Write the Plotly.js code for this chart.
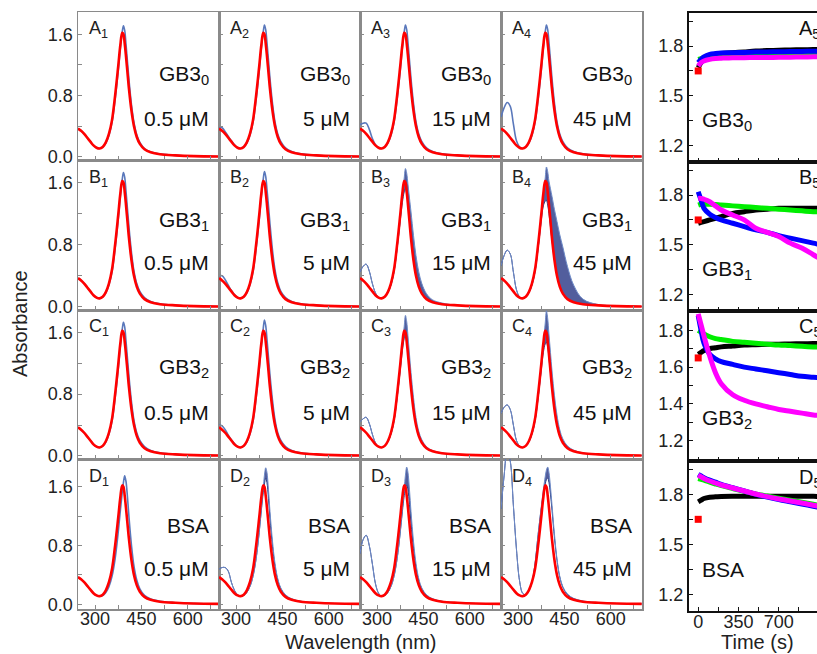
<!DOCTYPE html>
<html><head><meta charset="utf-8">
<script src="https://cdn.plot.ly/plotly-3.0.1.min.js"></script>
<style>html,body{margin:0;padding:0;overflow:hidden;background:#fff}</style>
</head><body><div id="chart" style="width:835px;height:654px"></div>
<script>
// ---------- spectral data (wavelength grid, nm) ----------
const wl = [245,255,265,275,285,295,305,315,325,335,345,355,365,375,382,388,392,396,400,405,410,418,426,435,445,460,480,510,560,620,700];
// final spectrum (red), same in each panel
const redAbs = [0.37,0.34,0.30,0.25,0.20,0.15,0.12,0.11,0.13,0.19,0.30,0.48,0.80,1.18,1.46,1.62,1.60,1.48,1.32,1.10,0.88,0.60,0.40,0.26,0.17,0.10,0.06,0.035,0.02,0.01,0.005];
// blue spectra (upper envelope "Hi", lower envelope "Lo" where a band of curves is visible)
const blueA1 = [0.37,0.34,0.30,0.25,0.20,0.15,0.12,0.11,0.13,0.18,0.28,0.45,0.75,1.12,1.42,1.63,1.71,1.65,1.48,1.24,1.00,0.68,0.45,0.29,0.19,0.11,0.065,0.04,0.02,0.01,0.005];
const blueA2 = [0.39,0.38,0.33,0.27,0.21,0.16,0.12,0.11,0.13,0.18,0.28,0.45,0.75,1.12,1.42,1.63,1.72,1.66,1.50,1.26,1.02,0.70,0.46,0.30,0.20,0.12,0.07,0.04,0.02,0.01,0.005];
const blueA3 = [0.42,0.44,0.44,0.36,0.24,0.16,0.12,0.11,0.13,0.18,0.28,0.45,0.75,1.12,1.42,1.63,1.72,1.66,1.50,1.26,1.02,0.70,0.46,0.30,0.20,0.12,0.07,0.04,0.02,0.01,0.005];
const blueA4 = [0.52,0.64,0.71,0.66,0.43,0.21,0.13,0.11,0.13,0.18,0.28,0.45,0.75,1.12,1.42,1.63,1.72,1.66,1.50,1.26,1.02,0.70,0.46,0.30,0.20,0.12,0.07,0.04,0.02,0.01,0.005];
const blueB1 = [0.37,0.34,0.30,0.25,0.20,0.15,0.12,0.11,0.13,0.18,0.28,0.45,0.75,1.12,1.42,1.64,1.73,1.67,1.50,1.26,1.02,0.70,0.46,0.30,0.20,0.12,0.07,0.04,0.02,0.01,0.005];
const blueB2 = [0.40,0.40,0.35,0.28,0.21,0.16,0.12,0.11,0.13,0.18,0.28,0.45,0.75,1.12,1.42,1.64,1.74,1.68,1.52,1.30,1.06,0.73,0.48,0.31,0.20,0.12,0.07,0.04,0.02,0.01,0.005];
const blueB3hi = [0.45,0.52,0.55,0.46,0.30,0.18,0.12,0.11,0.13,0.18,0.28,0.45,0.75,1.12,1.44,1.66,1.78,1.72,1.58,1.40,1.22,0.92,0.66,0.45,0.30,0.17,0.09,0.05,0.02,0.01,0.005];
const blueB3lo = [0.45,0.52,0.55,0.46,0.30,0.18,0.12,0.11,0.13,0.18,0.28,0.45,0.75,1.10,1.34,1.48,1.52,1.45,1.32,1.12,0.90,0.62,0.42,0.27,0.18,0.10,0.06,0.035,0.02,0.01,0.005];
const blueB4hi = [0.53,0.66,0.73,0.68,0.45,0.22,0.13,0.11,0.13,0.18,0.28,0.45,0.75,1.12,1.44,1.66,1.80,1.74,1.62,1.52,1.42,1.25,1.10,0.93,0.77,0.52,0.28,0.10,0.03,0.015,0.005];
const blueB4lo = [0.53,0.66,0.73,0.68,0.45,0.22,0.13,0.11,0.13,0.18,0.28,0.45,0.75,1.10,1.30,1.36,1.37,1.31,1.20,1.03,0.85,0.60,0.41,0.27,0.18,0.10,0.06,0.035,0.02,0.01,0.005];
const blueC1 = [0.37,0.34,0.30,0.25,0.20,0.15,0.12,0.11,0.13,0.18,0.28,0.45,0.75,1.12,1.42,1.64,1.73,1.67,1.50,1.26,1.02,0.70,0.46,0.30,0.20,0.12,0.07,0.04,0.02,0.01,0.005];
const blueC2 = [0.40,0.39,0.34,0.27,0.21,0.16,0.12,0.11,0.13,0.18,0.28,0.45,0.75,1.12,1.42,1.65,1.76,1.69,1.52,1.28,1.04,0.72,0.47,0.30,0.20,0.12,0.07,0.04,0.02,0.01,0.005];
const blueC3hi = [0.44,0.48,0.50,0.42,0.28,0.17,0.12,0.11,0.13,0.18,0.28,0.45,0.75,1.12,1.44,1.68,1.82,1.74,1.56,1.32,1.08,0.76,0.50,0.32,0.21,0.12,0.07,0.04,0.02,0.01,0.005];
const blueC3lo = [0.44,0.48,0.50,0.42,0.28,0.17,0.12,0.11,0.13,0.18,0.28,0.45,0.75,1.10,1.36,1.52,1.56,1.49,1.34,1.13,0.92,0.63,0.42,0.27,0.18,0.10,0.06,0.035,0.02,0.01,0.005];
const blueC4hi = [0.55,0.63,0.66,0.60,0.40,0.20,0.13,0.11,0.13,0.18,0.28,0.45,0.75,1.12,1.45,1.72,1.88,1.78,1.58,1.34,1.10,0.78,0.53,0.34,0.22,0.13,0.075,0.04,0.02,0.01,0.005];
const blueC4lo = [0.55,0.63,0.66,0.60,0.40,0.20,0.13,0.11,0.13,0.18,0.28,0.45,0.75,1.10,1.34,1.45,1.47,1.41,1.27,1.08,0.88,0.61,0.41,0.27,0.18,0.10,0.06,0.035,0.02,0.01,0.005];
const blueD1 = [0.37,0.34,0.30,0.25,0.20,0.15,0.12,0.11,0.12,0.16,0.24,0.38,0.62,0.98,1.28,1.52,1.66,1.75,1.68,1.46,1.18,0.80,0.52,0.33,0.21,0.12,0.07,0.04,0.02,0.01,0.005];
const blueD2hi = [0.48,0.50,0.50,0.45,0.30,0.19,0.13,0.11,0.12,0.16,0.24,0.38,0.62,0.98,1.30,1.58,1.76,1.86,1.80,1.56,1.26,0.86,0.56,0.35,0.22,0.13,0.075,0.04,0.02,0.01,0.005];
const blueD2lo = [0.48,0.50,0.50,0.45,0.30,0.19,0.13,0.11,0.12,0.16,0.24,0.38,0.62,0.98,1.28,1.52,1.64,1.72,1.66,1.44,1.16,0.79,0.52,0.33,0.21,0.12,0.07,0.04,0.02,0.01,0.005];
const blueD3hi = [0.69,0.88,0.94,0.80,0.55,0.28,0.15,0.11,0.12,0.16,0.24,0.38,0.62,0.98,1.30,1.58,1.76,1.87,1.80,1.56,1.26,0.86,0.56,0.35,0.22,0.13,0.075,0.04,0.02,0.01,0.005];
const blueD3lo = [0.69,0.88,0.94,0.80,0.55,0.28,0.15,0.11,0.12,0.16,0.24,0.38,0.62,0.97,1.26,1.48,1.58,1.62,1.56,1.36,1.10,0.76,0.50,0.32,0.21,0.12,0.07,0.04,0.02,0.01,0.005];
const blueD4hi = [1.30,1.75,2.10,1.95,1.35,0.75,0.32,0.15,0.13,0.18,0.30,0.55,0.95,1.32,1.56,1.74,1.83,1.87,1.80,1.60,1.35,0.95,0.62,0.38,0.24,0.14,0.08,0.045,0.02,0.01,0.005];
const blueD4lo = [1.30,1.75,2.10,1.95,1.35,0.75,0.32,0.15,0.13,0.18,0.30,0.55,0.95,1.30,1.50,1.64,1.70,1.72,1.66,1.50,1.28,0.90,0.60,0.37,0.23,0.13,0.075,0.04,0.02,0.01,0.005];

// ---------- kinetics data (time, s) ----------
const timeS = [0,25,50,100,150,200,300,400,500,600,700,800,900,1000,1100,1150];
const a5Black   = [1.67,1.70,1.72,1.74,1.75,1.755,1.76,1.765,1.77,1.773,1.775,1.777,1.778,1.779,1.78,1.78];
const a5Green   = [1.72,1.725,1.73,1.735,1.738,1.74,1.742,1.742,1.743,1.743,1.744,1.744,1.745,1.745,1.745,1.745];
const a5Blue    = [1.70,1.72,1.735,1.75,1.755,1.758,1.76,1.762,1.764,1.765,1.766,1.767,1.768,1.769,1.77,1.77];
const a5Magenta = [1.68,1.70,1.71,1.72,1.725,1.727,1.73,1.73,1.731,1.731,1.732,1.733,1.734,1.735,1.735,1.735];
const b5Black   = [1.63,1.635,1.64,1.65,1.66,1.67,1.69,1.70,1.71,1.715,1.72,1.72,1.72,1.72,1.72,1.72];
const b5Green   = [1.74,1.745,1.745,1.745,1.743,1.74,1.735,1.73,1.725,1.72,1.715,1.71,1.705,1.70,1.70,1.695];
const b5Blue    = [1.82,1.77,1.72,1.685,1.665,1.65,1.63,1.61,1.59,1.575,1.555,1.54,1.525,1.51,1.495,1.49];
const b5Magenta = [1.78,1.78,1.775,1.76,1.735,1.71,1.68,1.65,1.60,1.575,1.55,1.51,1.48,1.44,1.40,1.39];
const c5Black   = [1.67,1.68,1.69,1.70,1.705,1.71,1.715,1.72,1.722,1.724,1.725,1.726,1.727,1.728,1.728,1.728];
const c5Green   = [1.80,1.79,1.78,1.765,1.755,1.75,1.74,1.735,1.73,1.725,1.72,1.717,1.713,1.71,1.707,1.705];
const c5Blue    = [1.88,1.80,1.73,1.67,1.645,1.63,1.615,1.60,1.59,1.58,1.57,1.56,1.55,1.545,1.54,1.535];
const c5Magenta = [1.89,1.83,1.77,1.66,1.57,1.51,1.45,1.42,1.40,1.385,1.37,1.36,1.35,1.34,1.335,1.33];
const d5Black   = [1.755,1.765,1.775,1.783,1.785,1.787,1.788,1.788,1.788,1.788,1.788,1.788,1.788,1.788,1.787,1.787];
const d5Green   = [1.895,1.89,1.885,1.873,1.862,1.852,1.835,1.818,1.803,1.79,1.777,1.765,1.752,1.74,1.728,1.722];
const d5Blue    = [1.92,1.91,1.90,1.885,1.873,1.86,1.84,1.82,1.80,1.783,1.768,1.755,1.742,1.728,1.715,1.708];
const d5Magenta = [1.915,1.905,1.895,1.88,1.868,1.856,1.838,1.82,1.802,1.786,1.772,1.76,1.748,1.735,1.722,1.716];
const startTime = [0];
const startAbs = [1.65];

// ---------- labels ----------
const rowLetters = ['A','B','C','D'];
const agents = ['GB3<sub>0</sub>','GB3<sub>1</sub>','GB3<sub>2</sub>','BSA'];
const concs = ['0.5 μM','5 μM','15 μM','45 μM'];
const specTickVals = [300,375,450,525,600,675];
const specTickText = ['300','','450','','600',''];
const absTickVals = [0,0.4,0.8,1.2,1.6];
const absTickText = ['0.0','','0.8','','1.6'];
const timeTickVals = [0,175,350,525,700,875,1050];
const timeTickText = ['0','','350','','700','',''];

const blueHi = [[blueA1,blueA2,blueA3,blueA4],[blueB1,blueB2,blueB3hi,blueB4hi],[blueC1,blueC2,blueC3hi,blueC4hi],[blueD1,blueD2hi,blueD3hi,blueD4hi]];
const blueLo = [[null,null,null,null],[null,null,blueB3lo,blueB4lo],[null,null,blueC3lo,blueC4lo],[null,blueD2lo,blueD3lo,blueD4lo]];
const kin = [
  [a5Black,a5Green,a5Blue,a5Magenta],
  [b5Black,b5Green,b5Blue,b5Magenta],
  [c5Black,c5Green,c5Blue,c5Magenta],
  [d5Black,d5Green,d5Blue,d5Magenta]
];
const kinColors = ['#000000','#00ee00','#0000ff','#ff00ff'];
const kinAgents = ['GB3<sub>0</sub>','GB3<sub>1</sub>','GB3<sub>2</sub>','BSA'];

// ---------- geometry (px) ----------
const W = 835, H = 654;
const colX = [[78,219],[219,360],[360,501],[501,642]];
const rowY = [[12,160],[160,310],[310,459],[459,609]];
const kinX = [689,830];
const kinRowY = [[13,162],[162,311],[311,461],[461,611]];
const specYRange = [[-0.04,1.89],[-0.04,1.89],[-0.04,1.89],[-0.065,1.98]];
const kinYRange = [[1.1,2.0],[1.1,2.0],[1.09,1.905],[1.1,2.0]];
const fx = p => p / W;
const fy = p => 1 - p / H;

const FONT = '"Liberation Sans", Arial, sans-serif';
const traces = [];
const layout = {
  width: W, height: H, margin: {l:0,r:0,t:0,b:0},
  paper_bgcolor: '#fff', plot_bgcolor: '#fff', showlegend: false,
  font: {family: FONT, color: '#222', size: 18},
  annotations: []
};

let ax = 0;
for (let r = 0; r < 4; r++) {
  for (let c = 0; c < 4; c++) {
    ax++;
    const xa = 'x' + ax, ya = 'y' + ax;
    const xk = 'xaxis' + ax, yk = 'yaxis' + ax;
    layout[xk] = {
      domain: [fx(colX[c][0]), fx(colX[c][1])], anchor: ya, range: [245, 701],
      showline: true, mirror: true, linecolor: '#8a8a8a', linewidth: 1.5,
      showgrid: false, zeroline: false, ticks: 'inside', ticklen: 4, tickcolor: '#8a8a8a',
      tickvals: specTickVals, ticktext: specTickText, showticklabels: r === 3,
      ticklabelstandoff: -7,
      tickfont: {size: 18, family: FONT, color: '#222'}
    };
    layout[yk] = {
      domain: [fy(rowY[r][1]), fy(rowY[r][0])], anchor: xa, range: specYRange[r],
      showline: true, mirror: true, linecolor: '#8a8a8a', linewidth: 1.5,
      showgrid: false, zeroline: false, ticks: 'inside', ticklen: 4, tickcolor: '#8a8a8a',
      tickvals: absTickVals, ticktext: absTickText, showticklabels: c === 0,
      tickfont: {size: 18, family: FONT, color: '#222'}
    };
    const hi = blueHi[r][c], lo = blueLo[r][c];
    if (lo) {
      traces.push({x: wl, y: lo, xaxis: xa, yaxis: ya, mode: 'lines', line: {color: '#2c3f86', width: 1, shape: 'spline'}, hoverinfo: 'skip'});
      traces.push({x: wl, y: hi, xaxis: xa, yaxis: ya, mode: 'lines', fill: 'tonexty', fillcolor: 'rgba(52,66,140,0.85)', line: {color: '#6f8cc8', width: 1, shape: 'spline'}, hoverinfo: 'skip'});
    } else {
      traces.push({x: wl, y: hi, xaxis: xa, yaxis: ya, mode: 'lines', line: {color: '#5a78bb', width: 1.6, shape: 'spline'}, hoverinfo: 'skip'});
    }
    traces.push({x: wl, y: redAbs, xaxis: xa, yaxis: ya, mode: 'lines', line: {color: '#ff0000', width: 2.6, shape: 'spline'}, hoverinfo: 'skip'});

    const x0 = colX[c][0], x1 = colX[c][1], y0 = rowY[r][0];
    const agentOff = [60, 58, 55, 63][r];
    const concOff = [106, 102, 102, 109][r];
    layout.annotations.push({xref: 'paper', yref: 'paper', x: fx(x0 + 9), y: fy(y0 + 18), xanchor: 'left', yanchor: 'middle', showarrow: false,
      text: rowLetters[r] + '<sub>' + (c + 1) + '</sub>', font: {size: 18, family: FONT, color: '#222'}});
    layout.annotations.push({xref: 'paper', yref: 'paper', x: fx(x1 - 8), y: fy(y0 + agentOff + 3), xanchor: 'right', yanchor: 'middle', showarrow: false,
      text: agents[r], font: {size: 21, family: FONT, color: '#111'}});
    layout.annotations.push({xref: 'paper', yref: 'paper', x: fx(x1 - 8), y: fy(y0 + concOff), xanchor: 'right', yanchor: 'middle', showarrow: false,
      text: concs[c], font: {size: 21, family: FONT, color: '#111'}});
  }
}

for (let r = 0; r < 4; r++) {
  ax++;
  const xa = 'x' + ax, ya = 'y' + ax;
  const c5 = r === 2;
  layout['xaxis' + ax] = {
    domain: [fx(kinX[0]), fx(kinX[1])], anchor: ya, range: [-80, 1145],
    showline: true, mirror: true, linecolor: '#111', linewidth: 2,
    showgrid: false, zeroline: false, ticks: 'inside', ticklen: 4, tickcolor: '#111',
    tickvals: timeTickVals, ticktext: timeTickText, showticklabels: r === 3,
    ticklabelstandoff: -7,
    tickfont: {size: 18, family: FONT, color: '#222'}
  };
  layout['yaxis' + ax] = {
    domain: [fy(kinRowY[r][1]), fy(kinRowY[r][0])], anchor: xa, range: kinYRange[r],
    showline: true, mirror: true, linecolor: '#111', linewidth: 2,
    showgrid: false, zeroline: false, ticks: 'inside', ticklen: 4, tickcolor: '#111',
    tickvals: c5 ? [1.2,1.3,1.4,1.5,1.6,1.7,1.8] : [1.2,1.35,1.5,1.65,1.8,1.95],
    ticktext: c5 ? ['1.2','','1.4','','1.6','','1.8'] : ['1.2','','1.5','','1.8',''],
    tickfont: {size: 18, family: FONT, color: '#222'}
  };
  for (let k = 0; k < 4; k++) {
    traces.push({x: timeS, y: kin[r][k], xaxis: xa, yaxis: ya, mode: 'lines', line: {color: kinColors[k], width: 5, shape: 'spline'}, hoverinfo: 'skip'});
  }
  traces.push({x: startTime, y: startAbs, xaxis: xa, yaxis: ya, mode: 'markers', marker: {color: '#ff0000', symbol: 'square', size: 7}, hoverinfo: 'skip'});
  layout.annotations.push({xref: 'paper', yref: 'paper', x: fx(797), y: fy(kinRowY[r][0] + 17), xanchor: 'left', yanchor: 'middle', showarrow: false,
    text: rowLetters[r] + '<sub>5</sub>', font: {size: 20, family: FONT, color: '#111'}});
  layout.annotations.push({xref: 'paper', yref: 'paper', x: fx(700), y: fy(kinRowY[r][0] + 108), xanchor: 'left', yanchor: 'middle', showarrow: false,
    text: kinAgents[r], font: {size: 21, family: FONT, color: '#111'}});
}

layout.annotations.push({xref: 'paper', yref: 'paper', x: fx(361), y: fy(642), xanchor: 'center', yanchor: 'middle', showarrow: false,
  text: 'Wavelength (nm)', font: {size: 20, family: FONT, color: '#222'}});
layout.annotations.push({xref: 'paper', yref: 'paper', x: fx(757), y: fy(642), xanchor: 'center', yanchor: 'middle', showarrow: false,
  text: 'Time (s)', font: {size: 20, family: FONT, color: '#222'}});
layout.annotations.push({xref: 'paper', yref: 'paper', x: fx(20), y: fy(324), xanchor: 'center', yanchor: 'middle', showarrow: false, textangle: -90,
  text: 'Absorbance', font: {size: 20, family: FONT, color: '#222'}});

Plotly.newPlot('chart', traces, layout, {staticPlot: true, displayModeBar: false});
</script></body></html>
